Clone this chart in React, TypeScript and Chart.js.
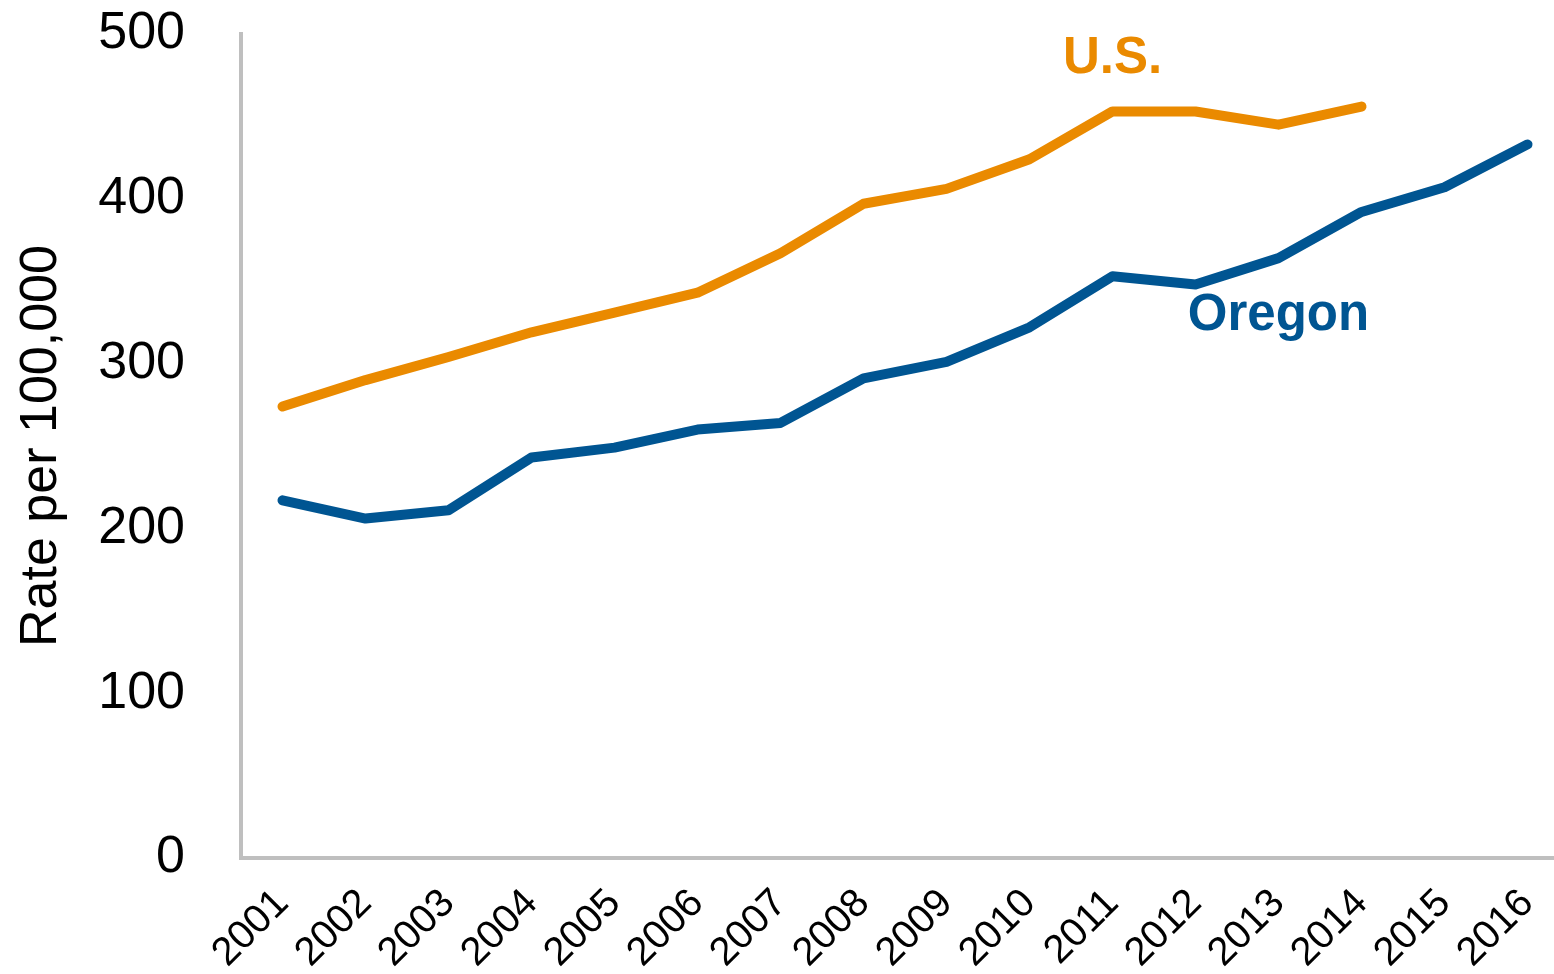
import React, { useEffect, useRef } from "react";
import { Chart, registerables } from "chart.js";

Chart.register(...registerables);

const years = ["2001","2002","2003","2004","2005","2006","2007","2008","2009","2010","2011","2012","2013","2014","2015","2016"];
const usRates = [274, 290, 304, 319, 331, 343, 367, 397, 406, 424, 453, 453, 445, 456, null, null];
const oregonRates = [217, 206, 211, 243, 249, 260, 264, 291, 301, 322, 353, 348, 364, 392, 407, 433];
const yTicks = [0, 100, 200, 300, 400, 500];

const US_COLOR = "#EA8A00";
const OR_COLOR = "#005592";

const seriesLabels = [
  { text: "U.S.", color: US_COLOR, index: 10, value: 485 },
  { text: "Oregon", color: OR_COLOR, index: 12, value: 329 },
];

const labelPlugin = {
  id: "seriesLabels",
  afterDatasetsDraw(chart: any) {
    const { ctx, scales } = chart;
    ctx.save();
    ctx.font = "bold 51px 'Liberation Sans', Arial, sans-serif";
    ctx.textAlign = "center";
    ctx.textBaseline = "middle";
    for (const l of seriesLabels) {
      ctx.fillStyle = l.color;
      ctx.fillText(l.text, scales.x.getPixelForValue(l.index), scales.y.getPixelForValue(l.value));
    }
    ctx.restore();
  },
};

export default function App() {
  const ref = useRef<HTMLCanvasElement>(null);
  useEffect(() => {
    if (!ref.current) return;
    const chart = new Chart(ref.current, {
      type: "line",
      data: {
        labels: years,
        datasets: [
          {
            label: "U.S.",
            data: usRates,
            borderColor: US_COLOR,
            backgroundColor: US_COLOR,
            borderWidth: 10,
            pointRadius: 0,
            borderCapStyle: "round",
            borderJoinStyle: "round",
            tension: 0,
            spanGaps: false,
          },
          {
            label: "Oregon",
            data: oregonRates,
            borderColor: OR_COLOR,
            backgroundColor: OR_COLOR,
            borderWidth: 10,
            pointRadius: 0,
            borderCapStyle: "round",
            borderJoinStyle: "round",
            tension: 0,
          },
        ],
      },
      options: {
        responsive: false,
        animation: false,
        layout: { autoPadding: false, padding: 0 },
        plugins: { legend: { display: false }, tooltip: { enabled: false } },
        scales: {
          x: {
            offset: true,
            grid: { display: false },
            border: { display: true, color: "#BFBFBF", width: 4 },
            ticks: {
              autoSkip: false,
              maxRotation: 45,
              minRotation: 45,
              padding: 14,
              color: "#000",
              font: { family: "'Liberation Sans', Arial, sans-serif", size: 40 },
            },
            afterFit: (scale: any) => {
              scale.height = 116;
              scale.paddingLeft = 0;
              scale.paddingRight = 0;
            },
          },
          y: {
            min: 0,
            max: 500,
            afterBuildTicks: (scale: any) => {
              scale.ticks = yTicks.map((v) => ({ value: v }));
            },
            grid: { display: false },
            border: { display: true, color: "#BFBFBF", width: 4 },
            ticks: {
              padding: 48,
              color: "#000",
              font: { family: "'Liberation Sans', Arial, sans-serif", size: 52 },
            },
            title: {
              display: true,
              text: "Rate per 100,000",
              color: "#000",
              font: { family: "'Liberation Sans', Arial, sans-serif", size: 52 },
              padding: { top: 10, bottom: 0 },
            },
            afterFit: (scale: any) => {
              scale.width = 241;
              scale.paddingTop = 34;
              scale.paddingBottom = 0;
            },
          },
        },
      },
      plugins: [labelPlugin],
    });
    return () => chart.destroy();
  }, []);
  return (
    <div style={{ position: "fixed", left: 0, top: 0, width: 1554, height: 974, overflow: "hidden", background: "#fff" }}>
      <canvas ref={ref} width={1569} height={974} style={{ display: "block" }} />
    </div>
  );
}
